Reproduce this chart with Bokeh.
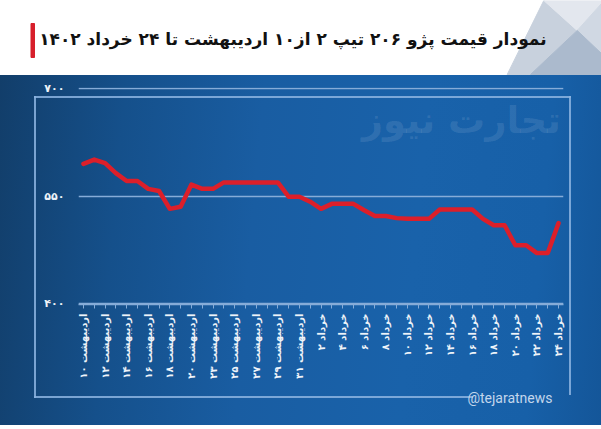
import math
from bokeh.plotting import figure
from bokeh.layouts import column
from bokeh.models import Range1d, FixedTicker, Label, Title
from bokeh.core.properties import value
from bokeh.embed import file_html
from bokeh.resources import INLINE

# ---------------- data ----------------
title_text = "نمودار قیمت پژو ۲۰۶ تیپ ۲ از۱۰ اردیبهشت تا ۲۴ خرداد ۱۴۰۲"
month_names = ["اردیبهشت"] * 21 + ["خرداد"] * 24
month_days = [10, 11, 12, 13, 14, 15, 16, 17, 18, 19, 20, 22, 23, 24, 25, 26, 27, 28, 29, 30, 31,
              1, 2, 3, 4, 5, 6, 7, 8, 9, 10, 11, 12, 13, 14, 15, 16, 17, 18, 19, 20, 21, 22, 23, 24]
prices = [595, 601, 596, 582, 571, 571, 560, 557, 532, 535, 566, 560, 560, 569, 569,
          569, 569, 569, 569, 549, 549, 542, 532, 539, 539, 539, 530, 522, 522, 519,
          518, 518, 518, 531, 531, 531, 531, 518, 509, 509, 481, 481, 470, 470, 512]
y_ticks = [400, 550, 700]
watermark = "تجارت نیوز"
handle = "@tejaratnews"

FA = str.maketrans("0123456789", "۰۱۲۳۴۵۶۷۸۹")
def fa(v):
    return str(v).translate(FA)

idx = list(range(len(prices)))
x_labels = {i: (month_names[i] + " " + fa(month_days[i])) if i % 2 == 0 else "" for i in idx}

FONT = "DejaVu Sans"
W = 601
TH = 75   # title strip height
MH = 350  # chart panel height

# ---------------- title strip (1 data unit = 1 px) ----------------
t = figure(width=W, height=TH, x_range=Range1d(0, W), y_range=Range1d(TH, 0),
           output_backend="svg", toolbar_location=None, min_border=0,
           x_axis_location=None, y_axis_location=None)
t.frame_align = False
t.grid.visible = False
t.outline_line_color = None
t.background_fill_color = "white"
t.border_fill_color = "white"
t.patch(x=[506.7, 543.3, 576.7, 530], y=[74, 0, 30, 74], color="#c8d1dd")
t.patch(x=[543.3, 601, 601, 576.7], y=[0, 0, 3, 30], color="#e3e7ee")
t.patch(x=[576.7, 601, 601], y=[30, 3, 53], color="#d0d8e3")
t.patch(x=[530, 576.7, 601, 601], y=[74, 30, 53, 74], color="#abbacd")
t.quad(left=[30.5], right=[34], top=[23], bottom=[57], color="#d71f2b")
t.text(x=[546], y=[38], text=[title_text], text_font=value(FONT), text_font_style="bold",
       text_font_size="17px", text_align="right", text_baseline="middle", text_color="#111111")

# ---------------- main chart ----------------
light = "#86acd8"
ln = "rgba(140,180,225,0.85)"
deco = [  # decorative frame lines: x, y, w, h (panel pixels)
    (34, 21, 537, 2), (34, 21, 2, 302), (569, 21, 2, 299), (34, 321, 439, 2)]
layers = [f"linear-gradient({ln},{ln}) {x}px {y}px / {w}px {h}px no-repeat" for x, y, w, h in deco]
layers.append("linear-gradient(95deg, #123e6a 0%, #15508b 20%, #195da2 42%, #1962aa 68%, #1760a8 88%, #145699 100%)")

p = figure(width=W, height=MH, x_range=Range1d(-0.46, 44.46), y_range=Range1d(398, 702),
           output_backend="svg", toolbar_location=None,
           min_border_left=78, min_border_right=38, min_border_top=12, min_border_bottom=121)
p.frame_align = False
p.styles = {"background": ", ".join(layers)}
p.background_fill_alpha = 0
p.border_fill_alpha = 0
p.outline_line_color = None

p.line(idx, prices, line_color="#dc1f2a", line_width=4.5, line_join="round", line_cap="round")

p.xgrid.visible = False
p.ygrid.ticker = FixedTicker(ticks=y_ticks)
p.ygrid.grid_line_color = light
p.ygrid.grid_line_width = 1.5

p.yaxis.ticker = FixedTicker(ticks=y_ticks)
p.yaxis.major_label_overrides = {v: fa(v) for v in y_ticks}
p.yaxis.axis_line_color = None
p.yaxis.major_tick_line_color = None
p.yaxis.minor_tick_line_color = None
p.yaxis.major_label_text_color = "#eef3f9"
p.yaxis.major_label_text_font = FONT
p.yaxis.major_label_text_font_style = "bold"
p.yaxis.major_label_text_font_size = "11px"
p.yaxis.major_label_standoff = 8

p.xaxis.ticker = FixedTicker(ticks=idx)
p.xaxis.major_label_overrides = x_labels
p.xaxis.major_label_orientation = math.pi / 2
p.xaxis.axis_line_color = light
p.xaxis.axis_line_width = 1.5
p.xaxis.major_tick_line_color = light
p.xaxis.major_tick_out = 4
p.xaxis.major_tick_in = 0
p.xaxis.minor_tick_line_color = None
p.xaxis.major_label_text_color = "#eef3f9"
p.xaxis.major_label_text_font = FONT
p.xaxis.major_label_text_font_style = "bold"
p.xaxis.major_label_text_font_size = "10px"
p.xaxis.major_label_standoff = 5

p.add_layout(Title(text=handle, align="right", offset=11, standoff=13, text_font="Roboto",
                   text_font_size="14px", text_font_style="normal", text_color="#c3d6ec"), "below")
p.add_layout(Label(x=35.0, y=656, text=watermark, text_font=FONT, text_font_style="bold",
                   text_font_size="37px", text_color="white", text_alpha=0.1,
                   text_baseline="middle", text_align="center"))

layout = column(t, p, spacing=0)
open("out.html", "w").write(file_html(layout, INLINE))
